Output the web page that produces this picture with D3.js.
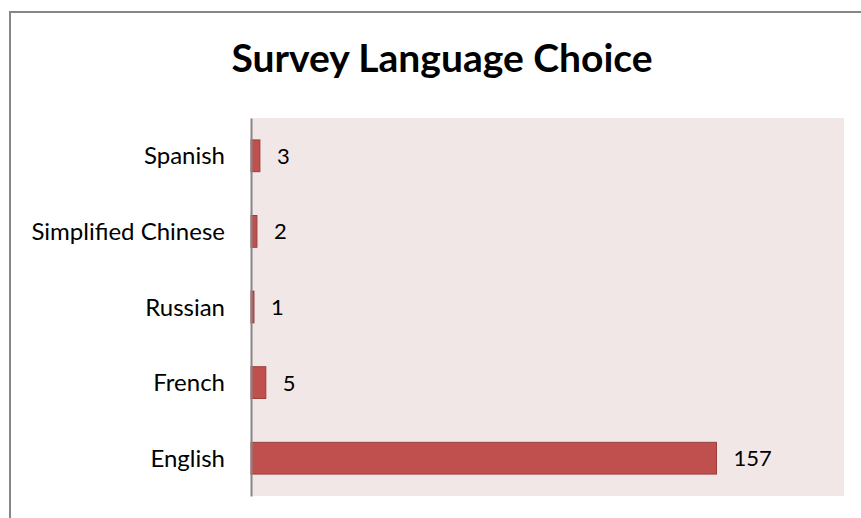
<!DOCTYPE html>
<html>
<head>
<meta charset="utf-8">
<script src="https://cdn.jsdelivr.net/npm/d3@7"></script>
<style>
  body { margin: 0; background: #fff; }
  text { font-family: Lato, "Open Sans", sans-serif; fill: #000; }
</style>
</head>
<body>
<div id="chart"></div>
<script>
// data, top to bottom as shown
var categories = ['Spanish', 'Simplified Chinese', 'Russian', 'French', 'English'];
var counts = [3, 2, 1, 5, 157];
var xTicks = [0, 200]; // axis domain (no tick labels shown)

var width = 861, height = 518;
var plot = { left: 251, right: 844, top: 118, bottom: 496 };

var svg = d3.select('#chart').append('svg')
  .attr('width', width)
  .attr('height', height);

// outer chart frame
svg.append('rect')
  .attr('x', 10).attr('y', 12)
  .attr('width', width + 10).attr('height', height + 10)
  .attr('fill', '#fff')
  .attr('stroke', '#868686')
  .attr('stroke-width', 2);

svg.append('text')
  .attr('x', 442).attr('y', 72)
  .attr('text-anchor', 'middle')
  .style('font-size', '39px')
  .style('font-weight', 'bold')
  .text('Survey Language Choice');

var x = d3.scaleLinear().domain(xTicks).range([plot.left, plot.right]);
var y = d3.scaleBand().domain(categories).range([plot.top, plot.bottom]);
var barH = y.bandwidth() * 0.42;

// plot area background
svg.append('rect')
  .attr('x', plot.left).attr('y', plot.top)
  .attr('width', plot.right - plot.left).attr('height', plot.bottom - plot.top)
  .attr('fill', '#F2E7E7');

var data = categories.map(function(c, i) { return { label: c, count: counts[i] }; });

svg.selectAll('.bar')
  .data(data)
  .enter().append('rect')
  .attr('class', 'bar')
  .attr('x', x(0))
  .attr('y', function(d) { return y(d.label) + (y.bandwidth() - barH) / 2; })
  .attr('width', function(d) { return x(d.count) - x(0); })
  .attr('height', barH)
  .attr('fill', '#C0504D')
  .attr('stroke', '#9A3E3B')
  .attr('stroke-width', 1);

svg.selectAll('.val')
  .data(data)
  .enter().append('text')
  .attr('class', 'val')
  .attr('x', function(d) { return x(d.count) + 17; })
  .attr('y', function(d) { return y(d.label) + y.bandwidth() / 2; })
  .attr('dy', '0.36em')
  .style('font-size', '22px')
  .text(function(d) { return d.count; });

// category axis
var yAxis = svg.append('g')
  .attr('transform', 'translate(' + plot.left + ',0)')
  .call(d3.axisLeft(y).tickSize(0).tickPadding(26));
yAxis.select('.domain').attr('stroke', '#868686').attr('stroke-width', 2);
yAxis.selectAll('text')
  .attr('dy', '0.36em')
  .style('font-size', '24px')
  .style('font-family', 'Lato, "Open Sans", sans-serif');
</script>
</body>
</html>
